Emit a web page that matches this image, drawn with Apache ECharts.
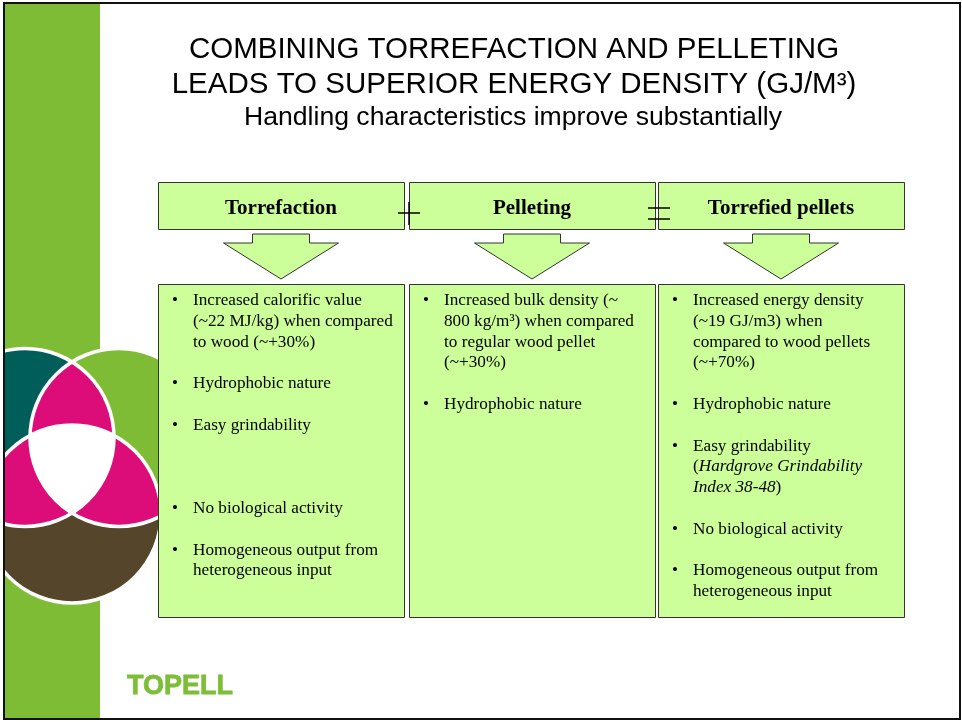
<!DOCTYPE html>
<html>
<head>
<meta charset="utf-8">
<script src="https://cdn.jsdelivr.net/npm/echarts@6/dist/echarts.min.js"></script>
<style>
  html, body { margin: 0; padding: 0; background: #fff; }
  #main { width: 962px; height: 722px; }
</style>
</head>
<body>
<div id="main"></div>
<script>
// slide texts
var titleLines = [
	'COMBINING TORREFACTION AND PELLETING',
	'LEADS TO SUPERIOR ENERGY DENSITY (GJ/M³)',
	'Handling characteristics improve substantially'
];
var headers = ['Torrefaction', 'Pelleting', 'Torrefied pellets'];

// one entry per text row, '• ' starts a bullet, '' is an empty row
var torrefactionRows = [
	'• Increased calorific value', '(~22 MJ/kg) when compared', 'to wood (~+30%)', '',
	'• Hydrophobic nature', '',
	'• Easy grindability', '', '', '',
	'• No biological activity', '',
	'• Homogeneous output from', 'heterogeneous input'
];
var pelletingRows = [
	'• Increased bulk density (~', '800 kg/m³) when compared', 'to regular wood pellet', '(~+30%)', '',
	'• Hydrophobic nature'
];
var pelletsRows = [
	'• Increased energy density', '(~19 GJ/m3) when', 'compared to wood pellets', '(~+70%)', '',
	'• Hydrophobic nature', '',
	'• Easy grindability', '({i|Hardgrove Grindability}', '{i|Index 38-48})', '',
	'• No biological activity', '',
	'• Homogeneous output from', 'heterogeneous input'
];
var columns = [torrefactionRows, pelletingRows, pelletsRows];

var GREEN = '#7fbc35';
var BOX = '#ccff99';
var SERIF = '"Liberation Serif", "DejaVu Serif", serif';
var SANS = '"Liberation Sans", Arial, sans-serif';

var colX = [158, 409, 658];
var colW = 246;

var els = [];

// background + green strip
els.push({ type: 'rect', shape: { x: 0, y: 0, width: 962, height: 722 }, style: { fill: '#fff' } });
els.push({ type: 'rect', shape: { x: 5, y: 4, width: 95, height: 715 }, style: { fill: GREEN } });

// ---- logo (three overlapping circles) ----
var cA = { x: 25, y: 437.5, r: 89 };
var cB = { x: 119, y: 437.5, r: 89 };
var cC = { x: 72, y: 514, r: 89 };

function inside(c, p) {
	var dx = p[0] - c.x, dy = p[1] - c.y;
	return dx * dx + dy * dy <= c.r * c.r + 0.5;
}
function intersect(c1, c2) {
	var dx = c2.x - c1.x, dy = c2.y - c1.y;
	var d = Math.sqrt(dx * dx + dy * dy);
	var a = (c1.r * c1.r - c2.r * c2.r + d * d) / (2 * d);
	var h = Math.sqrt(c1.r * c1.r - a * a);
	var mx = c1.x + a * dx / d, my = c1.y + a * dy / d;
	return [[mx + h * dy / d, my - h * dx / d], [mx - h * dy / d, my + h * dx / d]];
}
// arc of c from p to q, the side where test(mid) holds
function arc(c, p, q, test) {
	var a0 = Math.atan2(p[1] - c.y, p[0] - c.x);
	var a1 = Math.atan2(q[1] - c.y, q[0] - c.x);
	var pos = a1 - a0;
	while (pos < 0) pos += Math.PI * 2;
	var sweep = pos;
	var mid = [c.x + c.r * Math.cos(a0 + pos / 2), c.y + c.r * Math.sin(a0 + pos / 2)];
	if (!test(mid)) sweep = pos - Math.PI * 2;
	var pts = [];
	for (var i = 0; i <= 40; i++) {
		var t = a0 + sweep * i / 40;
		pts.push([c.x + c.r * Math.cos(t), c.y + c.r * Math.sin(t)]);
	}
	return pts;
}
function lens(c1, c2) {
	var ip = intersect(c1, c2);
	var p1 = arc(c1, ip[0], ip[1], function (m) { return inside(c2, m); });
	var p2 = arc(c2, ip[1], ip[0], function (m) { return inside(c1, m); });
	return p1.concat(p2);
}
function pick(c1, c2, c3) {
	var ip = intersect(c1, c2);
	return inside(c3, ip[0]) ? ip[0] : ip[1];
}
var vAB = pick(cA, cB, cC), vAC = pick(cA, cC, cB), vBC = pick(cB, cC, cA);
var core = []
	.concat(arc(cA, vAB, vAC, function (m) { return inside(cB, m) && inside(cC, m); }))
	.concat(arc(cC, vAC, vBC, function (m) { return inside(cA, m) && inside(cB, m); }))
	.concat(arc(cB, vBC, vAB, function (m) { return inside(cA, m) && inside(cC, m); }));

els.push({ type: 'circle', shape: { cx: cA.x, cy: cA.y, r: cA.r }, style: { fill: '#005e5a' } });
els.push({ type: 'circle', shape: { cx: cB.x, cy: cB.y, r: cB.r }, style: { fill: GREEN } });
els.push({ type: 'circle', shape: { cx: cC.x, cy: cC.y, r: cC.r }, style: { fill: '#55452a' } });
[[cA, cB], [cA, cC], [cB, cC]].forEach(function (pair) {
	els.push({ type: 'polygon', shape: { points: lens(pair[0], pair[1]) }, style: { fill: '#dc0c78' } });
});
els.push({ type: 'polygon', shape: { points: core }, style: { fill: '#fff' } });
[cA, cB, cC].forEach(function (c) {
	els.push({ type: 'circle', shape: { cx: c.x, cy: c.y, r: c.r }, style: { fill: 'none', stroke: '#fff', lineWidth: 3.5 } });
});
els.push({ type: 'rect', shape: { x: 0, y: 0, width: 4, height: 722 }, style: { fill: '#fff' } });

// ---- title ----
els.push({ type: 'text', x: 514, y: 50, style: { text: titleLines[0], font: '29.5px ' + SANS, fill: '#000', align: 'center', verticalAlign: 'middle' } });
els.push({ type: 'text', x: 514, y: 85, style: { text: titleLines[1], font: '29.5px ' + SANS, fill: '#000', align: 'center', verticalAlign: 'middle' } });
els.push({ type: 'text', x: 513, y: 117.5, style: { text: titleLines[2], font: '26.6px ' + SANS, fill: '#000', align: 'center', verticalAlign: 'middle' } });

// ---- headers, arrows, boxes ----
headers.forEach(function (h, i) {
	var x = colX[i], cx = x + colW / 2;
	els.push({ type: 'rect', shape: { x: x + 0.5, y: 182.5, width: colW, height: 47 }, style: { fill: BOX, stroke: '#333', lineWidth: 1 } });
	els.push({ type: 'text', x: cx, y: 208.5, style: { text: h, font: 'bold 21px ' + SERIF, fill: '#000', align: 'center', verticalAlign: 'middle' } });
	els.push({
		type: 'polygon',
		shape: { points: [[cx - 28.5, 234], [cx + 28.5, 234], [cx + 28.5, 243], [cx + 57.5, 243], [cx, 279], [cx - 57.5, 243], [cx - 28.5, 243]] },
		style: { fill: BOX, stroke: '#333', lineWidth: 1 }
	});
	els.push({ type: 'rect', shape: { x: x + 0.5, y: 284.5, width: colW, height: 333 }, style: { fill: BOX, stroke: '#333', lineWidth: 1 } });

	columns[i].forEach(function (row, r) {
		if (!row) return;
		var y = 300.5 + r * 20.8;
		var txt = row;
		if (row.indexOf('• ') === 0) {
			txt = row.slice(2);
			els.push({ type: 'text', x: x + 14, y: y, style: { text: '•', font: '17px ' + SERIF, fill: '#000', align: 'left', verticalAlign: 'middle' } });
		}
		els.push({
			type: 'text', x: x + 35, y: y,
			style: {
				text: txt, font: '17.2px ' + SERIF, fill: '#000', align: 'left', verticalAlign: 'middle',
				rich: { i: { fontFamily: SERIF, fontSize: 17.2, fontStyle: 'italic', fill: '#000' } }
			}
		});
	});
});

// plus / equals signs between headers
els.push({ type: 'line', shape: { x1: 398, y1: 213, x2: 420, y2: 213 }, style: { stroke: '#000', lineWidth: 1.5 } });
els.push({ type: 'line', shape: { x1: 409, y1: 202, x2: 409, y2: 225 }, style: { stroke: '#000', lineWidth: 1.5 } });
els.push({ type: 'line', shape: { x1: 648, y1: 208, x2: 670, y2: 208 }, style: { stroke: '#000', lineWidth: 1.5 } });
els.push({ type: 'line', shape: { x1: 648, y1: 219, x2: 670, y2: 219 }, style: { stroke: '#000', lineWidth: 1.5 } });

// company name
els.push({ type: 'text', x: 127, y: 687, style: { text: 'TOPELL', font: 'bold 27px ' + SANS, fill: '#7dbd38', align: 'left', verticalAlign: 'middle', stroke: '#7dbd38', lineWidth: 0.8 } });

// slide frame
els.push({ type: 'rect', shape: { x: 4, y: 3, width: 956, height: 716 }, style: { fill: 'none', stroke: '#111', lineWidth: 2 } });

var chart = echarts.init(document.getElementById('main'), null, { renderer: 'canvas' });
chart.setOption({
	animation: false,
	graphic: { elements: els }
});
</script>
</body>
</html>
